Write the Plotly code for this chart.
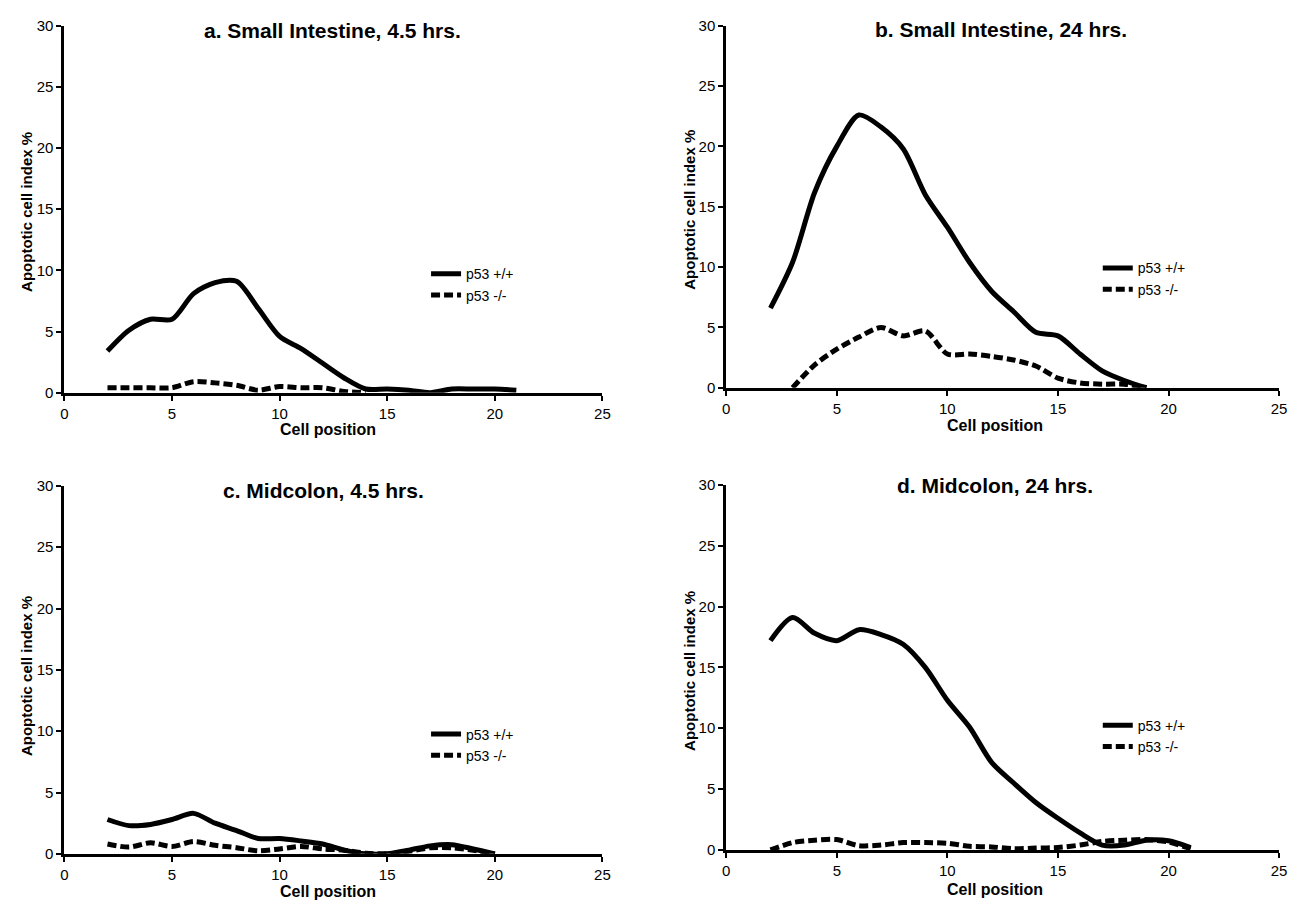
import plotly.graph_objects as go

W, H = 1295, 906

# ---------------- data ----------------
a_x_wt = [2, 3, 4, 5, 6, 7, 8, 9, 10, 11, 12, 13, 14, 15, 16, 17, 18, 19, 20, 21]
a_wt = [3.4, 5.1, 6.0, 6.0, 8.1, 9.0, 9.1, 6.9, 4.6, 3.6, 2.4, 1.2, 0.3, 0.3, 0.2, 0.0, 0.3, 0.3, 0.3, 0.2]
a_x_ko = [2, 3, 4, 5, 6, 7, 8, 9, 10, 11, 12, 13, 14]
a_ko = [0.4, 0.4, 0.4, 0.4, 0.9, 0.8, 0.6, 0.2, 0.5, 0.4, 0.4, 0.1, 0.0]

b_x_wt = [2, 3, 4, 5, 6, 7, 8, 9, 10, 11, 12, 13, 14, 15, 16, 17, 18, 19]
b_wt = [6.6, 10.4, 16.2, 20.0, 22.6, 21.6, 19.8, 16.0, 13.3, 10.4, 8.0, 6.3, 4.6, 4.3, 2.8, 1.4, 0.6, 0.0]
b_x_ko = [3, 4, 5, 6, 7, 8, 9, 10, 11, 12, 13, 14, 15, 16, 17, 18, 19]
b_ko = [0.0, 1.9, 3.2, 4.2, 5.0, 4.3, 4.7, 2.8, 2.8, 2.6, 2.3, 1.8, 0.8, 0.4, 0.3, 0.3, 0.0]

c_x_wt = [2, 3, 4, 5, 6, 7, 8, 9, 10, 11, 12, 13, 14, 15, 16, 17, 18, 19, 20]
c_wt = [2.8, 2.3, 2.4, 2.8, 3.3, 2.5, 1.9, 1.25, 1.25, 1.05, 0.8, 0.3, 0.0, 0.0, 0.3, 0.65, 0.75, 0.4, 0.0]
c_x_ko = [2, 3, 4, 5, 6, 7, 8, 9, 10, 11, 12, 13, 14, 15, 16, 17, 18, 19, 20]
c_ko = [0.8, 0.55, 0.9, 0.6, 1.0, 0.7, 0.5, 0.25, 0.4, 0.6, 0.4, 0.3, 0.05, 0.0, 0.2, 0.5, 0.5, 0.3, 0.0]

d_x_wt = [2, 3, 4, 5, 6, 7, 8, 9, 10, 11, 12, 13, 14, 15, 16, 17, 18, 19, 20, 21]
d_wt = [17.2, 19.1, 17.8, 17.2, 18.1, 17.7, 16.9, 15.0, 12.3, 10.1, 7.2, 5.5, 3.9, 2.6, 1.4, 0.4, 0.4, 0.8, 0.75, 0.2]
d_x_ko = [2, 3, 4, 5, 6, 7, 8, 9, 10, 11, 12, 13, 14, 15, 16, 17, 18, 19, 20, 21]
d_ko = [0.0, 0.6, 0.8, 0.85, 0.35, 0.4, 0.6, 0.6, 0.55, 0.3, 0.25, 0.1, 0.15, 0.2, 0.4, 0.7, 0.8, 0.85, 0.65, 0.1]

titles = ["a. Small Intestine, 4.5 hrs.", "b. Small Intestine, 24 hrs.",
          "c. Midcolon, 4.5 hrs.", "d. Midcolon, 24 hrs."]
series_names = ["p53 +/+", "p53 -/-"]
x_ticks = [0, 5, 10, 15, 20, 25]
y_ticks = [0, 5, 10, 15, 20, 25, 30]
x_title = "Cell position"
y_title = "Apoptotic cell index %"

# ---------------- layout geometry (pixels) ----------------
panels = [
    dict(x0=61, x1=604, y0=17, y1=391, title_xy=(332, 22), xt=(327, 429), yt=(22, 207), leg=(426, 254)),
    dict(x0=729, x1=1287, y0=17, y1=386, title_xy=(1006, 21), xt=(1000, 424), yt=(692, 205), leg=(1104, 248)),
    dict(x0=61, x1=604, y0=486, y1=861, title_xy=(322, 491), xt=(327, 899), yt=(22, 680), leg=(426, 723)),
    dict(x0=729, x1=1287, y0=485, y1=857, title_xy=(1000, 486), xt=(1000, 897), yt=(692, 675), leg=(1104, 714)),
]
data = [
    (a_x_wt, a_wt, a_x_ko, a_ko),
    (b_x_wt, b_wt, b_x_ko, b_ko),
    (c_x_wt, c_wt, c_x_ko, c_ko),
    (d_x_wt, d_wt, d_x_ko, d_ko),
]

def px(x):
    return x / W

def py(y):
    return 1 - y / H

TICKFONT = dict(family="Liberation Sans Narrow, Liberation Sans, Arial", size=15, color="black")
BOLD = "Liberation Sans, Arial"

fig = go.Figure()
annotations = []
layout = dict(width=W, height=H, margin=dict(l=0, r=0, t=0, b=0),
              paper_bgcolor="white", plot_bgcolor="white", showlegend=True)

for i, (p, (xw, yw, xk, yk)) in enumerate(zip(panels, data)):
    n = i + 1
    xa = "x" if n == 1 else f"x{n}"
    ya = "y" if n == 1 else f"y{n}"
    leg = "legend" if n == 1 else f"legend{n}"
    fig.add_trace(go.Scatter(x=xw, y=yw, mode="lines", name=series_names[0],
                             line=dict(color="black", width=5, shape="spline", smoothing=0.8),
                             xaxis=xa, yaxis=ya, legend=leg))
    fig.add_trace(go.Scatter(x=xk, y=yk, mode="lines", name=series_names[1],
                             line=dict(color="black", width=5, dash="9px,4px", shape="spline", smoothing=0.8),
                             xaxis=xa, yaxis=ya, legend=leg))
    axis_common = dict(showline=True, linecolor="black", linewidth=3, ticks="outside",
                       ticklen=5, tickwidth=2, tickcolor="black", showgrid=False,
                       zeroline=False, tickfont=TICKFONT, fixedrange=True)
    layout["xaxis" if n == 1 else f"xaxis{n}"] = dict(
        domain=[px(p["x0"]), px(p["x1"])], range=[0, 25], tickvals=x_ticks,
        anchor=ya, **axis_common)
    layout["yaxis" if n == 1 else f"yaxis{n}"] = dict(
        domain=[py(p["y1"]), py(p["y0"])], range=[0, 30], tickvals=y_ticks,
        anchor=xa, **axis_common)
    layout[leg] = dict(x=px(p["leg"][0]), y=py(p["leg"][1]), xanchor="left", yanchor="top",
                       bgcolor="rgba(0,0,0,0)", borderwidth=0, tracegroupgap=0,
                       font=dict(family="Liberation Sans Narrow, Liberation Sans, Arial", size=14, color="black"))
    annotations.append(dict(text=f"<b>{titles[i]}</b>", x=px(p["title_xy"][0]), y=py(p["title_xy"][1]),
                            xref="paper", yref="paper", xanchor="center", yanchor="middle",
                            showarrow=False, font=dict(family=BOLD, size=21, color="black")))
    annotations.append(dict(text=f"<b>{x_title}</b>", x=px(p["xt"][0]), y=py(p["xt"][1]),
                            xref="paper", yref="paper", xanchor="center", yanchor="middle",
                            showarrow=False, font=dict(family=BOLD, size=16, color="black")))
    annotations.append(dict(text=f"<b>{y_title}</b>", x=px(p["yt"][0]), y=py(p["yt"][1]),
                            xref="paper", yref="paper", xanchor="center", yanchor="middle",
                            textangle=-90, showarrow=False, font=dict(family=BOLD, size=15, color="black")))

layout["annotations"] = annotations
fig.update_layout(**layout)

fig.write_html("out.html", include_plotlyjs=True, config={"displayModeBar": False},
               post_script="document.body.style.margin='0';")
